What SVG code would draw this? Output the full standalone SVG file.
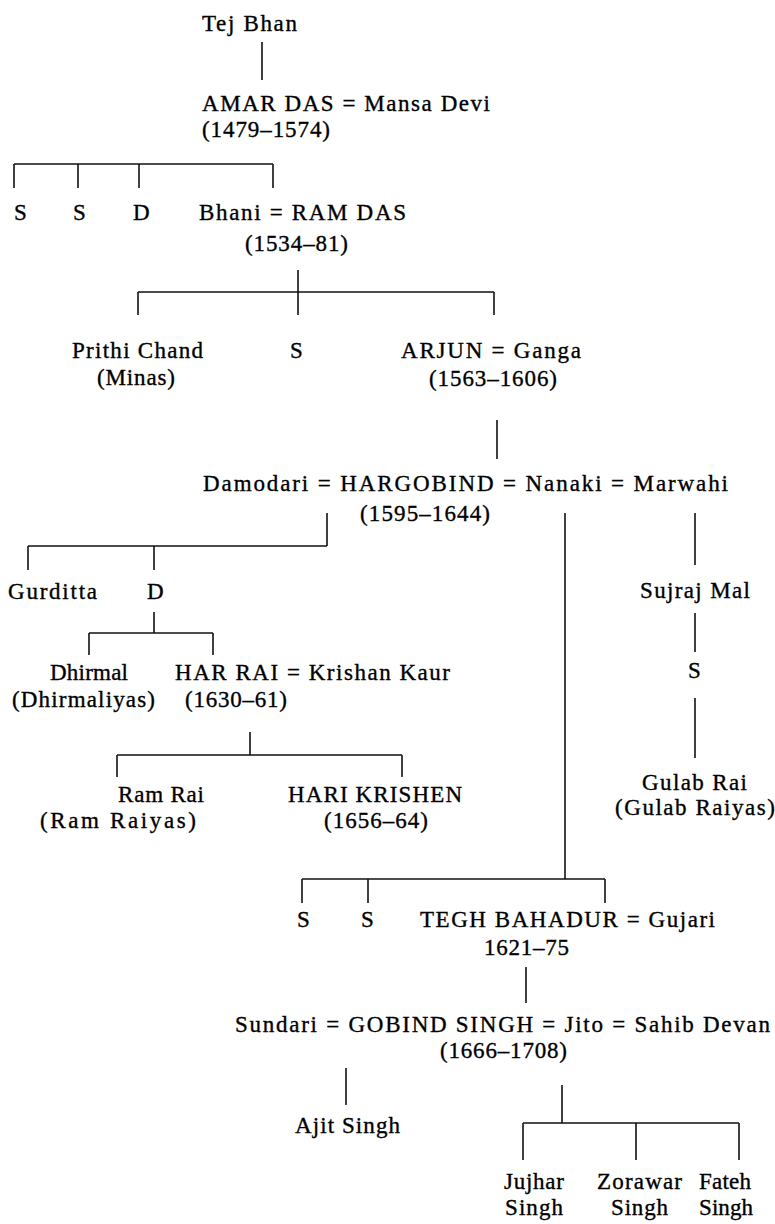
<svg xmlns="http://www.w3.org/2000/svg" width="775" height="1224" viewBox="0 0 775 1224">
<style>
text{font-family:"Liberation Serif","Times New Roman",serif;font-size:23px;fill:#000;stroke:#000;stroke-width:0.35;}
.c line{stroke:#111;stroke-width:1.6;fill:none;}
</style>
<rect width="775" height="1224" fill="#fff"/>
<g class="c" id="connectors">
<line x1="262" y1="42" x2="262" y2="80"/>
<line x1="14" y1="164" x2="273" y2="164"/>
<line x1="14" y1="164" x2="14" y2="188"/>
<line x1="78" y1="164" x2="78" y2="188"/>
<line x1="139" y1="164" x2="139" y2="188"/>
<line x1="273" y1="164" x2="273" y2="188"/>
<line x1="138" y1="292" x2="494" y2="292"/>
<line x1="298" y1="270" x2="298" y2="315"/>
<line x1="138" y1="292" x2="138" y2="315"/>
<line x1="494" y1="292" x2="494" y2="315"/>
<line x1="497" y1="420" x2="497" y2="459"/>
<line x1="327" y1="513" x2="327" y2="546"/>
<line x1="28" y1="546" x2="327" y2="546"/>
<line x1="28" y1="546" x2="28" y2="570"/>
<line x1="154" y1="546" x2="154" y2="570"/>
<line x1="154" y1="612" x2="154" y2="633"/>
<line x1="89" y1="633" x2="213" y2="633"/>
<line x1="89" y1="633" x2="89" y2="655"/>
<line x1="213" y1="633" x2="213" y2="655"/>
<line x1="250" y1="732" x2="250" y2="755"/>
<line x1="117" y1="755" x2="402" y2="755"/>
<line x1="117" y1="755" x2="117" y2="777"/>
<line x1="402" y1="755" x2="402" y2="777"/>
<line x1="565" y1="513" x2="565" y2="879"/>
<line x1="302" y1="879" x2="605" y2="879"/>
<line x1="302" y1="879" x2="302" y2="903"/>
<line x1="368" y1="879" x2="368" y2="903"/>
<line x1="605" y1="879" x2="605" y2="903"/>
<line x1="695" y1="513" x2="695" y2="565"/>
<line x1="695" y1="613" x2="695" y2="652"/>
<line x1="695" y1="698" x2="695" y2="758"/>
<line x1="526" y1="967" x2="526" y2="1003"/>
<line x1="346" y1="1068" x2="346" y2="1105"/>
<line x1="562" y1="1085" x2="562" y2="1123"/>
<line x1="523" y1="1123" x2="739" y2="1123"/>
<line x1="523" y1="1123" x2="523" y2="1160"/>
<line x1="636" y1="1123" x2="636" y2="1160"/>
<line x1="739" y1="1123" x2="739" y2="1160"/>
</g>
<g id="tej-bhan"><text x="202" y="31" textLength="95">Tej Bhan</text></g>
<g id="amar-das"><text x="202" y="111" textLength="288">AMAR DAS = Mansa Devi</text><text x="202" y="137" textLength="128">(1479–1574)</text></g>
<g id="s1"><text x="14" y="220">S</text></g>
<g id="s2"><text x="73" y="220">S</text></g>
<g id="d1"><text x="133" y="220">D</text></g>
<g id="ram-das"><text x="199" y="220" textLength="207">Bhani = RAM DAS</text><text x="245" y="251" textLength="103">(1534–81)</text></g>
<g id="prithi-chand"><text x="72" y="358" textLength="131">Prithi Chand</text><text x="97" y="385" textLength="78">(Minas)</text></g>
<g id="s3"><text x="290" y="358">S</text></g>
<g id="arjun"><text x="401" y="358" textLength="180">ARJUN = Ganga</text><text x="429" y="386" textLength="128">(1563–1606)</text></g>
<g id="hargobind"><text x="203" y="491" textLength="525">Damodari = HARGOBIND = Nanaki = Marwahi</text><text x="360" y="521" textLength="130">(1595–1644)</text></g>
<g id="gurditta"><text x="8" y="599" textLength="89">Gurditta</text></g>
<g id="d2"><text x="147" y="599">D</text></g>
<g id="dhirmal"><text x="50" y="680" textLength="78">Dhirmal</text><text x="12" y="707" textLength="143">(Dhirmaliyas)</text></g>
<g id="har-rai"><text x="175" y="680" textLength="275">HAR RAI = Krishan Kaur</text><text x="185" y="707" textLength="102">(1630–61)</text></g>
<g id="ram-rai"><text x="118" y="802" textLength="86">Ram Rai</text><text x="40" y="828" textLength="156">(Ram Raiyas)</text></g>
<g id="hari-krishen"><text x="288" y="802" textLength="174">HARI KRISHEN</text><text x="324" y="828" textLength="104">(1656–64)</text></g>
<g id="sujraj-mal"><text x="640" y="598" textLength="110">Sujraj Mal</text></g>
<g id="s4"><text x="688" y="678">S</text></g>
<g id="gulab-rai"><text x="642" y="790" textLength="105">Gulab Rai</text><text x="615" y="815" textLength="160">(Gulab Raiyas)</text></g>
<g id="s5"><text x="297" y="927">S</text></g>
<g id="s6"><text x="361" y="927">S</text></g>
<g id="tegh-bahadur"><text x="420" y="927" textLength="295">TEGH BAHADUR = Gujari</text><text x="484" y="955" textLength="85">1621–75</text></g>
<g id="gobind-singh"><text x="235" y="1032" textLength="535">Sundari = GOBIND SINGH = Jito = Sahib Devan</text><text x="440" y="1058" textLength="127">(1666–1708)</text></g>
<g id="ajit-singh"><text x="295" y="1133" textLength="105">Ajit Singh</text></g>
<g id="jujhar-singh"><text x="504" y="1189" textLength="60">Jujhar</text><text x="505" y="1215" textLength="58">Singh</text></g>
<g id="zorawar-singh"><text x="597" y="1189" textLength="85">Zorawar</text><text x="611" y="1215" textLength="57">Singh</text></g>
<g id="fateh-singh"><text x="699" y="1189" textLength="52">Fateh</text><text x="699" y="1215" textLength="54">Singh</text></g>
</svg>
